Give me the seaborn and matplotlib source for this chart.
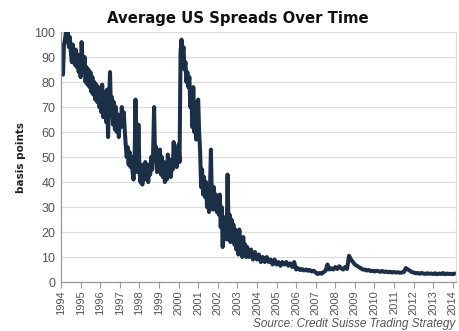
import matplotlib
matplotlib.use("Agg")
import matplotlib.pyplot as plt
import seaborn as sns
import pandas as pd
import numpy as np

# half-monthly readings, 1994.00 -> 2003.45 (step 0.05 yr)
spread_1994 = [95, 86, 83, 95, 97, 100, 96, 100, 94, 98, 92, 88, 95, 90, 87, 93, 86, 91, 84, 89]
spread_1995 = [82, 96, 88, 84, 90, 80, 86, 79, 85, 78, 84, 76, 82, 75, 80, 73, 79, 72, 78, 70]
spread_1996 = [77, 68, 79, 66, 76, 70, 64, 77, 58, 72, 84, 68, 74, 63, 72, 61, 70, 60, 67, 58]
spread_1997 = [66, 62, 70, 63, 68, 61, 55, 50, 54, 47, 52, 46, 50, 44, 41, 47, 73, 48, 44, 63]
spread_1998 = [45, 40, 47, 39, 46, 41, 48, 42, 45, 40, 47, 43, 50, 45, 52, 70, 49, 54, 44, 52]
spread_1999 = [46, 53, 43, 50, 42, 48, 40, 47, 41, 51, 44, 49, 42, 47, 45, 56, 47, 53, 46, 50]
spread_2000 = [55, 48, 92, 97, 90, 94, 85, 88, 80, 84, 78, 82, 70, 76, 62, 78, 60, 72, 57, 68]
spread_2001 = [73, 60, 52, 38, 45, 35, 42, 34, 40, 30, 37, 28, 36, 53, 33, 29, 38, 31, 35, 28]
spread_2002 = [33, 27, 35, 22, 30, 14, 24, 18, 26, 17, 43, 22, 27, 16, 25, 18, 23, 15, 21, 13]
spread_2003a = [17, 11, 21, 12, 16, 10, 18, 11, 15, 10]

# readings every 0.1 yr, 2003.5 -> 2014.1
spread_2003b = [14, 10, 13, 9, 12]
spread_2004 = [9, 11, 8, 10, 8, 10, 8, 9, 7, 9]
spread_2005 = [7, 8, 6.5, 8, 7, 8, 6.5, 7.5, 6, 8]
spread_2006 = [5, 5.5, 4.8, 5.2, 4.6, 5, 4.5, 4.8, 4.2, 4.5]
spread_2007 = [3.8, 3.2, 3.6, 3.3, 4, 4.5, 7, 5, 5.5, 5]
spread_2008 = [6, 5.2, 6.3, 5.5, 5, 6, 5.2, 10.5, 9, 8]
spread_2009 = [7, 6.5, 6, 5.5, 5, 5, 4.6, 4.8, 4.4, 4.5]
spread_2010 = [4.2, 4.5, 4.3, 4.1, 4.4, 4, 4.2, 3.9, 4.1, 3.8]
spread_2011 = [4, 3.8, 3.9, 3.7, 3.8, 4, 5.6, 5, 4.6, 4]
spread_2012 = [3.8, 3.5, 3.6, 3.3, 3.6, 3.4, 3.2, 3.5, 3.3, 3.4]
spread_2013 = [3.2, 3.5, 3.1, 3.4, 3.2, 3.6, 3.1, 3.4, 3.2, 3.3]
spread_2014 = [3.1, 3.4]

year_ticks = list(range(1994, 2015))
y_ticks = list(range(0, 101, 10))

early = (spread_1994 + spread_1995 + spread_1996 + spread_1997 + spread_1998
         + spread_1999 + spread_2000 + spread_2001 + spread_2002 + spread_2003a)
late = (spread_2003b + spread_2004 + spread_2005 + spread_2006 + spread_2007 + spread_2008
        + spread_2009 + spread_2010 + spread_2011 + spread_2012 + spread_2013 + spread_2014)

x_early = 1994 + 0.05 * np.arange(len(early))
x_late = 2003.5 + 0.1 * np.arange(len(late))
df = pd.DataFrame({"year": np.concatenate([x_early, x_late]),
                   "bp": early + late})

sns.set_style("whitegrid")
plt.rcParams["font.family"] = ["Liberation Sans", "DejaVu Sans"]

fig = plt.figure(figsize=(4.59, 3.31), dpi=100)
ax = fig.add_axes([0.133, 0.148, 0.860, 0.755])

sns.lineplot(data=df, x="year", y="bp", ax=ax, color="#1b2f47", linewidth=2.9)

ax.set_xlim(1994, 2014.15)
ax.set_ylim(0, 100)
ax.set_xticks(year_ticks)
ax.set_xticklabels([str(y) for y in year_ticks], rotation=90, fontsize=8, color="#555555")
ax.set_yticks(y_ticks)
ax.set_yticklabels([str(v) for v in y_ticks], fontsize=9, color="#555555")
ax.tick_params(axis="x", length=4, width=0.8, color="#999999", pad=2, bottom=True)
ax.tick_params(axis="y", length=0, pad=4)

ax.grid(axis="y", color="#dddddd", linewidth=0.9)
ax.grid(axis="x", visible=False)
ax.spines["top"].set_visible(False)
ax.spines["left"].set_color("#999999")
ax.spines["bottom"].set_color("#999999")
ax.spines["right"].set_color("#e0e0e0")
for s in ax.spines.values():
    s.set_linewidth(0.9)

ax.set_xlabel("")
ax.set_ylabel("basis points", fontsize=7.5, fontweight="bold", color="#222222", labelpad=6,
              family="DejaVu Sans")

fig.text(0.518, 0.945, "Average US Spreads Over Time", ha="center", va="center",
         fontsize=10.7, fontweight="bold", color="#111111", family="DejaVu Sans")
fig.text(0.992, 0.022, "Source: Credit Suisse Trading Strategy", ha="right", va="center",
         fontsize=8.5, style="italic", color="#555555")

fig.savefig("out.png", dpi=100)
